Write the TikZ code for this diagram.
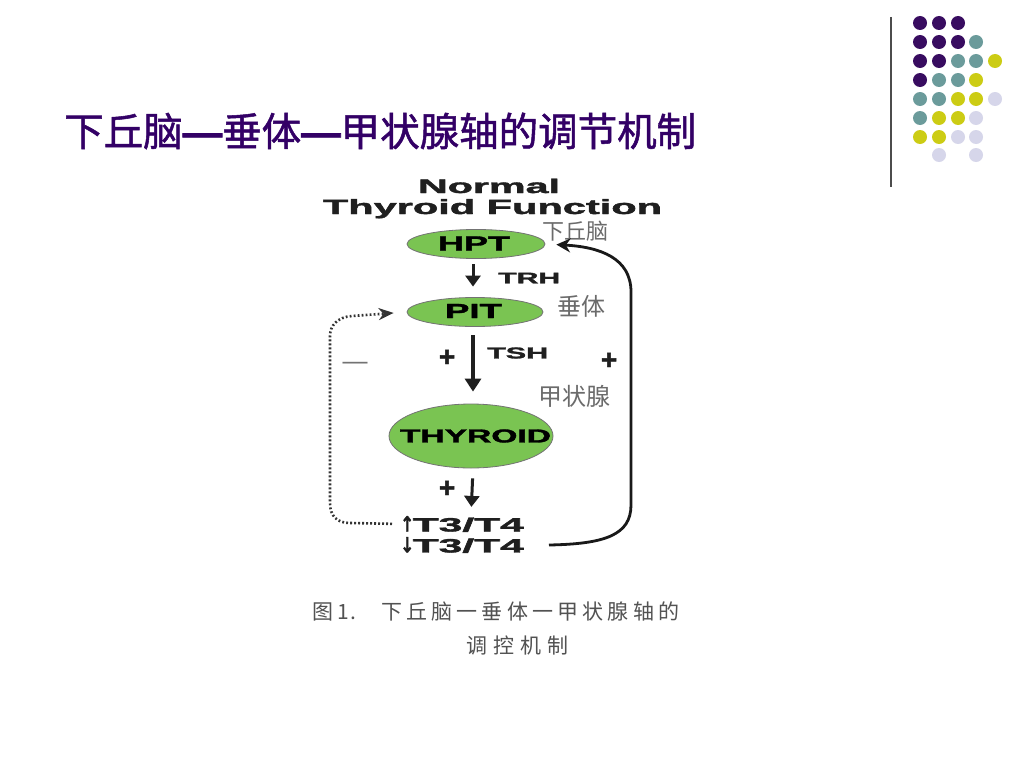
\documentclass[tikz,border=0pt]{standalone}
\usepackage{fontspec}
\setmainfont{Liberation Sans}[BoldFeatures={FakeBold=1.6}]
\newfontfamily\cjk{Noto Sans CJK SC}
\newfontfamily\cjkt{Noto Sans CJK SC}[FakeBold=1.3]
\newfontfamily\dvs{DejaVu Sans}[BoldFeatures={FakeBold=1.5}]
\usepackage{graphicx}
\usetikzlibrary{shapes.geometric,arrows.meta}
\definecolor{titlepurple}{RGB}{51,0,102}
\definecolor{dp}{RGB}{56,12,96}
\definecolor{dt}{RGB}{107,155,155}
\definecolor{dy}{RGB}{204,204,20}
\definecolor{dl}{RGB}{214,214,234}
\definecolor{thygreen}{RGB}{122,196,82}
\newlength\sprdw
\setlength\sprdw{25.2pt}
\def\sprdchars#1{\ifx#1\relax\else\makebox[\sprdw][l]{#1}\expandafter\sprdchars\fi}
\newcommand\widetxt[3]{\resizebox{#1pt}{#2pt}{\bfseries #3}}
\begin{document}
\begin{tikzpicture}[x=1pt,y=-1pt,
  ell/.style={ellipse, draw=black!55, line width=0.8pt, fill=thygreen, inner sep=0pt},
  lbl/.style={inner sep=0pt, text=black!88},
  cjklbl/.style={inner sep=0pt, text=black!58},
  plus/.style={inner sep=0pt, text=black!88, font=\bfseries\fontsize{28}{28}\selectfont},
  bigarrow/.style={line width=3pt, black!88, -{Triangle[width=15pt,length=11pt]}},
  fb/.style={line width=2.8pt, black!90, -{Stealth[width=14pt,length=14pt]}},
  dotline/.style={line width=2.6pt, black!80, dash pattern=on 1.8pt off 2.2pt, -{Stealth[width=12pt,length=15pt]}}]
\useasboundingbox[fill=white] (0,0) rectangle (1024,768);

% title
\node[anchor=west, inner sep=0pt, text=titlepurple, font=\cjkt\fontsize{39.5}{40}\selectfont] (title) at (64,131) {下丘脑{\rmfamily\bfseries —}垂体{\rmfamily\bfseries —}甲状腺轴的调节机制};

% decoration: line and dots
\draw[black!70, line width=1.3pt] (891,17) -- (891,187);
\foreach \cx/\cy/\cc in {
  920/23/dp, 939/23/dp, 958/23/dp,
  920/42/dp, 939/42/dp, 958/42/dp, 976/42/dt,
  920/61/dp, 939/61/dp, 958/61/dt, 976/61/dt, 995/61/dy,
  920/80/dp, 939/80/dt, 958/80/dt, 976/80/dy,
  920/99/dt, 939/99/dt, 958/99/dy, 976/99/dy, 995/99/dl,
  920/118/dt, 939/118/dy, 958/118/dy, 976/118/dl,
  920/137/dy, 939/137/dy, 958/137/dl, 976/137/dl,
  939/155/dl, 976/155/dl}
  \fill[\cc] (\cx,\cy) circle[radius=7pt];

% headings
\node[lbl, anchor=base] (normal) at (489,193) {\widetxt{142}{14.3}{Normal}};
\node[lbl, anchor=base] (thyfun) at (492.5,214) {\widetxt{339}{15}{Thyroid Function}};

% glands
\node[ell, minimum width=138pt, minimum height=29pt] (HPT) at (476,244) {};
\node[lbl, text=black] (HPTt) at (474,243.5) {\widetxt{72}{14}{HPT}};
\node[ell, minimum width=136pt, minimum height=29pt] (PIT) at (475,312) {};
\node[lbl, text=black] (PITt) at (473.5,311) {\widetxt{57}{14}{PIT}};
\node[ell, minimum width=164pt, minimum height=64pt] (THY) at (471,436) {};
\node[lbl, text=black] (THYt) at (475.5,436) {\widetxt{151}{13}{THYROID}};

% hormone levels
\node[lbl, anchor=west] (t34up) at (400,524) {\scalebox{0.8}[1]{\dvs\bfseries\fontsize{21}{21}\selectfont ↑}\hspace{-1.5pt}\widetxt{111}{14}{T3/T4}};
\node[lbl, anchor=west] (t34dn) at (400,545) {\scalebox{0.8}[1]{\dvs\bfseries\fontsize{21}{21}\selectfont ↓}\hspace{-1.5pt}\widetxt{111}{14}{T3/T4}};

% chinese labels
\node[cjklbl, anchor=west, font=\cjk\fontsize{22}{22}\selectfont] (lhpt) at (542,231) {下丘脑};
\node[cjklbl, anchor=west, font=\cjk\fontsize{24}{24}\selectfont] (lpit) at (557,306) {垂体};
\node[cjklbl, anchor=west, font=\cjk\fontsize{24}{24}\selectfont] (lthy) at (538,396) {甲状腺};

% hormone labels and signs
\node[lbl, anchor=west] (trh) at (498,278) {\widetxt{62}{10.5}{TRH}};
\node[lbl, anchor=west] (tsh) at (487,353) {\widetxt{61}{11}{TSH}};
\node[plus] (plus1) at (447,358) {+};
\node[plus] (plus2) at (609,361) {+};
\node[plus] (plus3) at (447,489) {+};
\node[inner sep=0pt, text=black!55, font=\fontsize{25}{25}\selectfont] (minus) at (355,366) {—};

% main arrows
\draw[bigarrow, shorten <=5.5pt, shorten >=10.5pt] ([xshift=-3pt]HPT.south) -- ([xshift=-2pt]PIT.north);
\draw[bigarrow, line width=3.4pt, -{Triangle[width=16pt,length=13pt]}, shorten <=8.5pt, shorten >=12pt] ([xshift=-2pt]PIT.south) -- ([xshift=2pt]THY.north);
\draw[bigarrow, shorten <=10pt, shorten >=9pt] ([xshift=2pt]THY.south) -- (THY.south |- t34up.north);

% negative feedback (dotted)
\draw[dotline, shorten <=8pt, shorten >=13pt] (t34up.west) -- (350,523) .. controls (337,523) and (330,516) .. (330,503) -- (330,336) .. controls (330,326) and (337,317) .. (352,316) -- (PIT.west);

% positive feedback (solid)
\draw[fb, shorten >=11pt] ([xshift=25pt]t34dn.east) .. controls (605,544) and (631,535) .. (631,505) -- (631,292) .. controls (631,258) and (600,247) .. (HPT.east);

% caption
\node[anchor=west, inner sep=0pt, text=black!68, font=\cjk\fontsize{21}{21}\selectfont] (cap1) at (312,612) {\makebox[25pt][l]{图}\makebox[13pt][l]{1}\makebox[31pt][l]{.}\sprdchars 下丘脑一垂体一甲状腺轴的\relax};
\node[anchor=west, inner sep=0pt, text=black!68, font=\cjk\fontsize{21}{21}\selectfont] (cap2) at (466,645) {\setlength\sprdw{27pt}\sprdchars 调控机制\relax};
\end{tikzpicture}
\end{document}
